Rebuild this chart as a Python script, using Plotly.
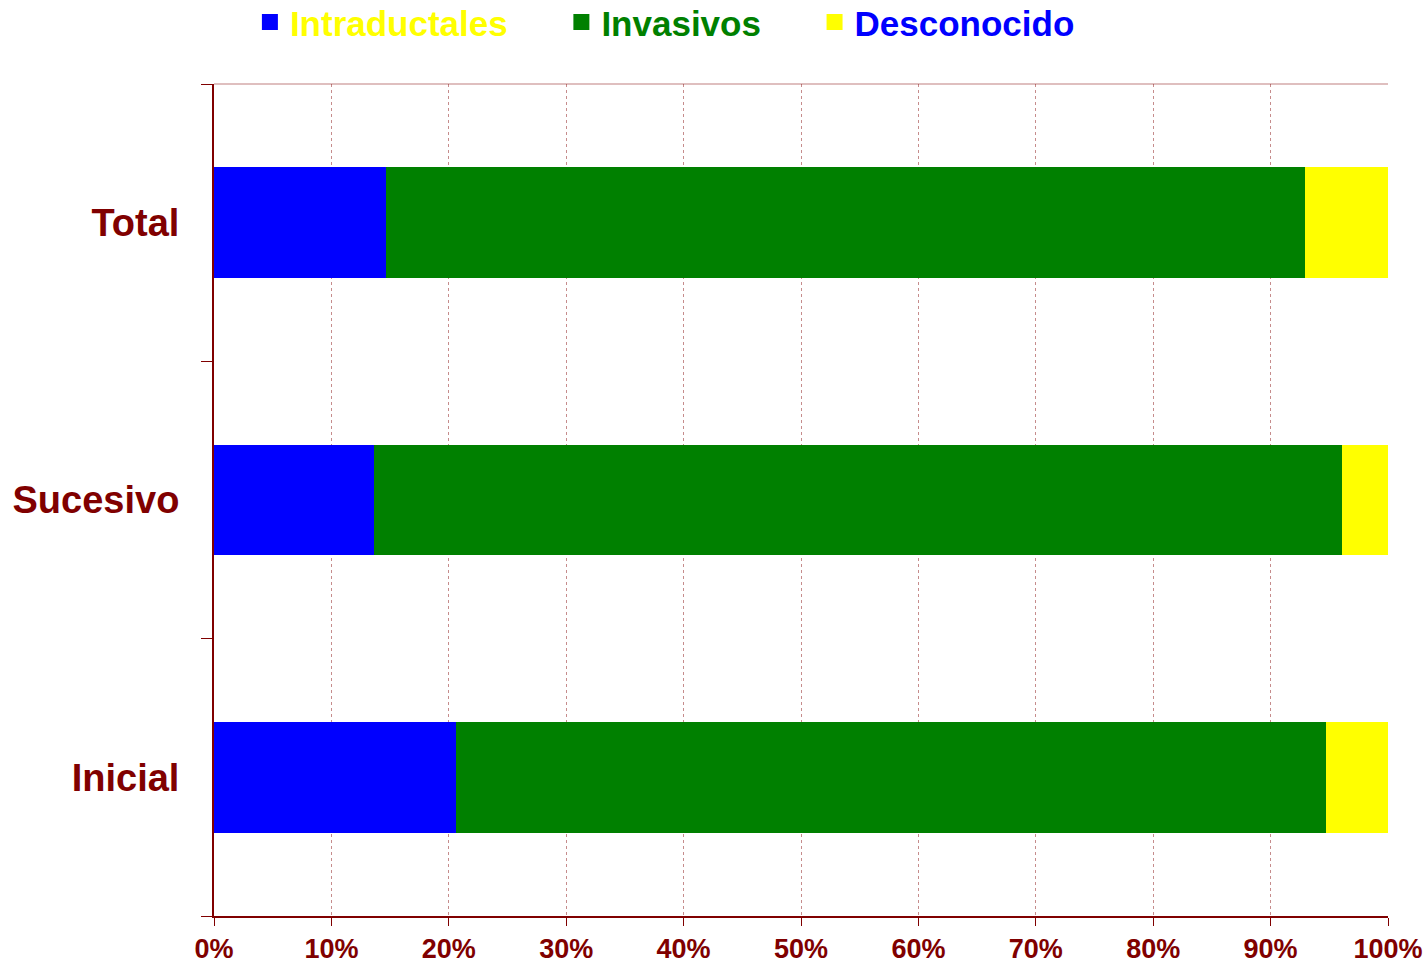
import plotly.graph_objects as go

categories = ["Inicial", "Sucesivo", "Total"]
intraductales = [20.6, 13.65, 14.65]
invasivos = [74.1, 82.4, 78.3]
desconocido = [5.3, 3.95, 7.05]

DARKRED = "#800000"
FONT = "Liberation Sans, Arial, sans-serif"
PAD = "\u00a0" * 5

series = [
    ("Intraductales", intraductales, "#0000FF", "#FFFF00"),
    ("Invasivos", invasivos, "#008000", "#008000"),
    ("Desconocido", desconocido, "#FFFF00", "#0000FF"),
]

fig = go.Figure()
for name, vals, color, txtcolor in series:
    fig.add_trace(go.Bar(
        y=categories, x=vals, orientation="h", name=name, showlegend=False,
        marker=dict(color=color, line=dict(width=0))))

# legend entries with bigger square swatches and coloured labels
for i, (name, vals, color, txtcolor) in enumerate(series):
    label = '<b><span style="color:%s">%s</span></b>' % (txtcolor, name)
    if i < len(series) - 1:
        label += PAD
    fig.add_trace(go.Scatter(
        x=[None], y=[None], mode="markers", name=label,
        marker=dict(symbol="square", size=16, color=color, line=dict(width=0))))

fig.update_layout(
    barmode="stack",
    bargap=0.6,
    width=1428, height=965,
    margin=dict(l=214, r=40, t=84, b=49, autoexpand=False),
    paper_bgcolor="white", plot_bgcolor="white",
    font=dict(family=FONT, color=DARKRED),
    showlegend=True,
    legend=dict(
        orientation="h", xref="container", yref="container",
        x=0.175, xanchor="left", y=0.977, yanchor="middle",
        font=dict(size=35, family=FONT),
        traceorder="normal", bgcolor="rgba(0,0,0,0)"),
)

fig.update_xaxes(
    range=[0, 100], dtick=10, tickprefix="<b>", ticksuffix="%</b>",
    showgrid=True, gridcolor="rgba(128,0,0,0.45)", griddash="dot", gridwidth=1,
    showline=True, linecolor=DARKRED, linewidth=2,
    ticks="outside", ticklen=8, tickcolor=DARKRED, tickwidth=1,
    tickfont=dict(size=27, color=DARKRED, family=FONT),
    zeroline=False, fixedrange=True, automargin=False,
)
fig.update_yaxes(
    categoryorder="array", categoryarray=categories,
    tickvals=categories, ticktext=["<b>%s</b>" % c for c in categories],
    range=[-0.5, 2.5],
    showgrid=False, showline=True, linecolor=DARKRED, linewidth=2,
    tickson="boundaries", ticks="outside", ticklen=11, tickcolor=DARKRED, tickwidth=1,
    ticklabelstandoff=25,
    tickfont=dict(size=38, color=DARKRED, family=FONT),
    fixedrange=True, automargin=False,
)

# faint border along top of the plot area
fig.add_shape(type="line", xref="paper", yref="paper", x0=0, x1=1, y0=1, y1=1,
              line=dict(color="rgba(128,0,0,0.25)", width=2))

# drop the browser's default body margin so the figure sits at the top-left corner
fig.write_html("out.html", config={"displayModeBar": False},
               post_script="document.body.style.margin='0';document.body.style.overflow='hidden';")
